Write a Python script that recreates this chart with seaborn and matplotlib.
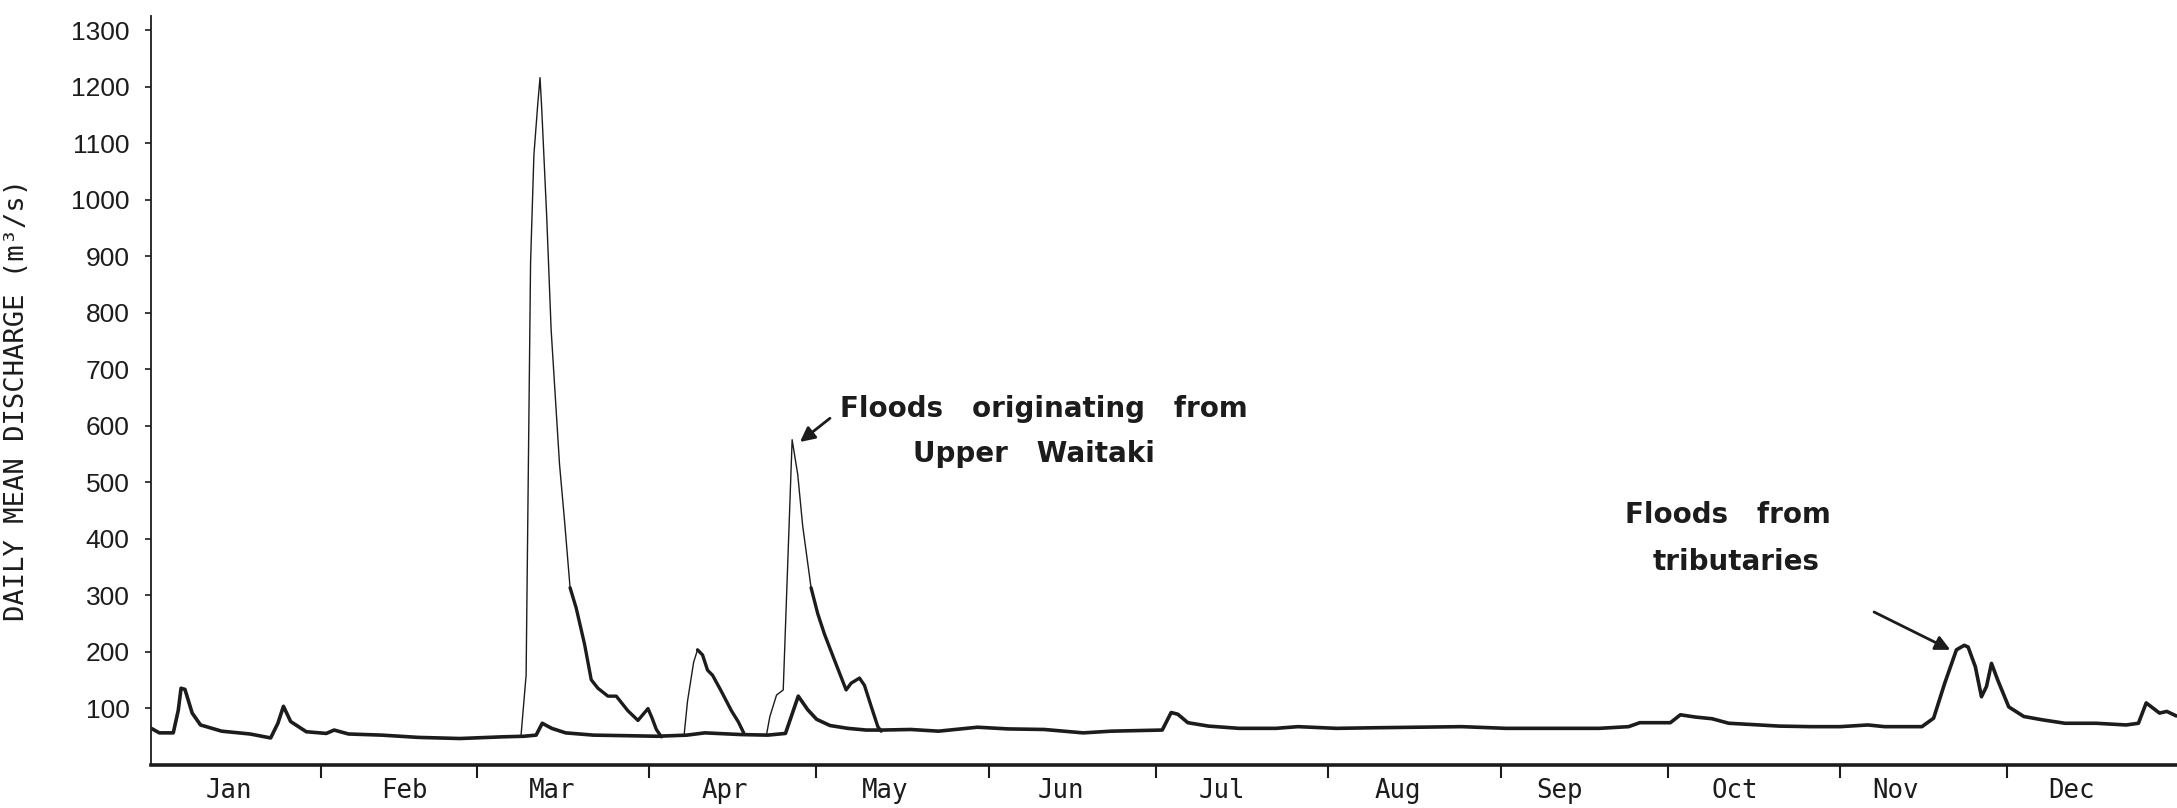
import numpy as np
import pandas as pd
import matplotlib
matplotlib.use("Agg")
import matplotlib.pyplot as plt
import seaborn as sns

# --- data (day of year, discharge m3/s) ---
months = ["Jan", "Feb", "Mar", "Apr", "May", "Jun",
          "Jul", "Aug", "Sep", "Oct", "Nov", "Dec"]
month_start = [0, 31, 59, 90, 120, 151, 181, 212, 243, 273, 304, 334]

# tributary (lower, thick) flow
base_day = [0, 2, 4.5, 5.4, 5.9, 6.6, 7.9, 9.4, 13.2, 18.3, 22, 23.3, 24.3, 25.6,
            28.4, 32, 33.4, 36, 42, 48.5, 56, 63.7, 67.5, 69.7, 70.8, 72.5, 75,
            80, 86, 91.4, 96.8, 100, 106.5, 111.3, 114.5, 116.8, 118.5, 120.1,
            122.5, 125.7, 129, 132, 137, 142, 149, 154.5, 161, 168, 173, 182.2,
            183.8, 185, 186.8, 190.5, 196, 202.6, 206.6, 213.5, 220, 228, 236,
            244, 252.6, 260.7, 266, 268, 273.5, 275.3, 278, 281, 284, 287.7, 293,
            298.7, 304, 309, 312, 318.7, 320.8, 322.8, 324.9, 326.3, 327, 328.3,
            329.4, 330.3, 331.2, 332.3, 334.3, 337, 340.4, 344.4, 350, 355.4,
            357.6, 359, 361.4, 362.7, 364.4]
base_q = [67, 56, 56, 96, 135, 133, 91, 70, 59, 54, 47, 73, 103, 76,
          58, 55, 61, 54, 52, 48, 46, 49, 50, 52, 73, 64, 56,
          52, 51, 50, 52, 56, 53, 52, 55, 121, 97, 80,
          69, 64, 61, 61, 62, 59, 66, 63, 62, 56, 59, 61,
          92, 89, 74, 68, 64, 64, 67, 64, 65, 66, 67,
          64, 64, 64, 67, 74, 74, 88, 84, 81, 73, 71, 68,
          67, 67, 70, 67, 67, 82, 144, 203, 211, 208, 173,
          120, 138, 179, 150, 102, 85, 79, 73, 73, 70,
          73, 109, 91, 94, 86]

# floods originating from Upper Waitaki (upper, thin) flow
mar_day = [67.0, 67.9, 68.7, 69.3, 70.0, 70.4, 70.7, 71.6, 72.4, 73.9, 74.8, 75.8,
           76.9, 78.4, 79.6, 80.8, 82.6, 84.1, 86.2, 88.0, 89.8, 90.5, 91.3, 92.2]
mar_q = [53, 158, 888, 1079, 1170, 1216, 1162, 970, 769, 532, 432, 313,
         277, 213, 150, 135, 121, 121, 95, 78, 99, 83, 62, 49]

apr_day = [96.3, 96.9, 98.0, 98.7, 99.6, 100.5, 101.4, 102.9, 104.8, 106.0, 107.0]
apr_q = [53, 112, 181, 203, 194, 167, 158, 131, 95, 76, 56]

may_day = [111.1, 111.7, 112.9, 114.1, 115.7, 116.4, 116.7, 117.6, 119.1, 120.3,
           121.5, 123.3, 125.4, 126.3, 127.8, 128.7, 129.9, 131.1, 131.7]
may_q = [53, 85, 123, 132, 575, 532, 514, 422, 313, 267,
         231, 185, 132, 144, 153, 140, 103, 67, 59]

base = pd.DataFrame({"day": base_day, "q": base_q})
floods = pd.concat([
    pd.DataFrame({"day": d, "q": q, "event": name})
    for name, d, q in [("mar", mar_day, mar_q), ("apr", apr_day, apr_q), ("may", may_day, may_q)]
], ignore_index=True)

# recession limbs were drawn with a heavier pen
rec = []
for name, grp in floods.groupby("event", sort=False):
    grp = grp.reset_index(drop=True)
    after = grp.iloc[grp["q"].idxmax():]
    rec.append(after[after["q"] <= 330])
rec = pd.concat(rec, ignore_index=True)

# --- figure ---
sns.set_theme(style="ticks")
plt.rcParams["font.family"] = ["DejaVu Sans Mono", "DejaVu Sans"]
ink = "#1c1c1c"

W, H = 2177, 808
fig = plt.figure(figsize=(W / 100, H / 100), dpi=100)
ax = fig.add_axes([151 / W, 43.5 / H, 2028.6 / W, 749 / H])

sns.lineplot(data=floods, x="day", y="q", units="event", estimator=None,
             color=ink, lw=1.0, ax=ax, sort=False)
sns.lineplot(data=base, x="day", y="q", color=ink, lw=2.6, ax=ax, sort=False)
sns.lineplot(data=rec, x="day", y="q", units="event", estimator=None,
             color=ink, lw=2.4, ax=ax, sort=False)

ax.set_xlim(0.5, 365)
ax.set_ylim(0, 1326)

sns.despine(ax=ax)
ax.spines["left"].set_linewidth(1.3)
ax.spines["bottom"].set_linewidth(2.6)
ax.spines["left"].set_color(ink)
ax.spines["bottom"].set_color(ink)

ax.set_yticks(range(100, 1400, 100))
ax.tick_params(axis="y", length=4.5, width=1.2, pad=11, labelsize=19, colors=ink)
for lab in ax.get_yticklabels():
    lab.set_fontfamily("Liberation Sans")

label_pos = [14.5, 46, 72.5, 103.6, 132.4, 164, 193, 224.6, 253.5, 285, 314, 345.5]
ax.set_xticks(month_start[1:], labels=[""] * 11)
ax.set_xticks(label_pos, labels=months, minor=True)
ax.tick_params(axis="x", which="major", length=9, width=1.5, colors=ink)
ax.tick_params(axis="x", which="minor", length=0, pad=10, labelsize=18.5, colors=ink)

ax.set_xlabel("")
ax.set_ylabel("DAILY MEAN DISCHARGE (m³/s)", fontsize=19.5, color=ink)
ax.yaxis.set_label_coords(-0.0597, 0.487)

ann = dict(fontfamily="DejaVu Sans", fontweight="bold", fontsize=20, color=ink)
ax.text(124.3, 615, "Floods   originating   from", ha="left", va="baseline", **ann)
ax.text(159.2, 535, "Upper   Waitaki", ha="center", va="baseline", **ann)
ax.text(265.3, 427, "Floods   from", ha="left", va="baseline", **ann)
ax.text(285.4, 345, "tributaries", ha="center", va="baseline", **ann)

arrow = dict(arrowstyle="-|>", color=ink, lw=2.0, mutation_scale=22,
             shrinkA=0, shrinkB=0)
ax.annotate("", xy=(117.1, 571), xytext=(122.5, 613), arrowprops=arrow)
ax.annotate("", xy=(323.8, 203), xytext=(310.1, 270), arrowprops=arrow)

fig.savefig("out.png", dpi=100, facecolor="white")
